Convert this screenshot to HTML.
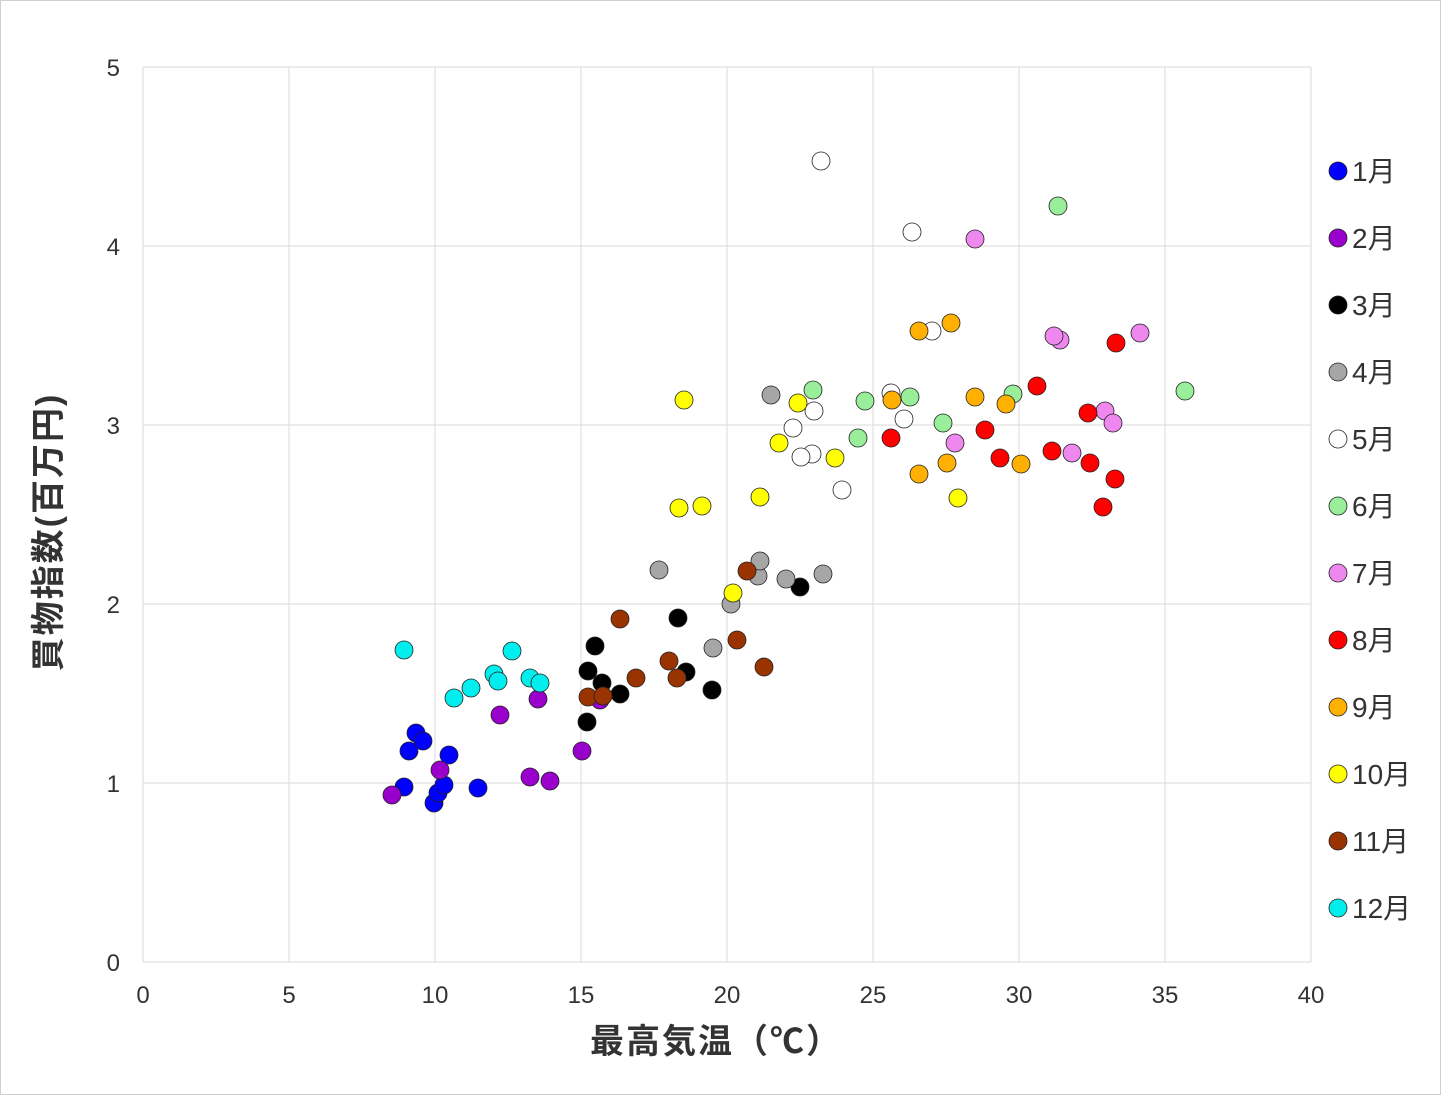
<!DOCTYPE html>
<html><head><meta charset="utf-8"><style>
body{margin:0;background:#fff}
svg{display:block}
text{font-family:"Liberation Sans","Noto Sans CJK JP",sans-serif}
</style></head><body>
<svg width="1441" height="1095" viewBox="0 0 1441 1095">
<rect x="0.5" y="0.5" width="1440" height="1094" fill="#fff" stroke="#d0d0d0"/>
<g stroke="#d9d9d9" stroke-width="1">
<line x1="143" y1="67" x2="1311" y2="67"/><line x1="143" y1="246" x2="1311" y2="246"/><line x1="143" y1="425" x2="1311" y2="425"/><line x1="143" y1="604" x2="1311" y2="604"/><line x1="143" y1="783" x2="1311" y2="783"/><line x1="143" y1="962" x2="1311" y2="962"/>
<line x1="143" y1="67" x2="143" y2="962"/><line x1="289" y1="67" x2="289" y2="962"/><line x1="435" y1="67" x2="435" y2="962"/><line x1="581" y1="67" x2="581" y2="962"/><line x1="727" y1="67" x2="727" y2="962"/><line x1="873" y1="67" x2="873" y2="962"/><line x1="1019" y1="67" x2="1019" y2="962"/><line x1="1165" y1="67" x2="1165" y2="962"/><line x1="1311" y1="67" x2="1311" y2="962"/>
</g>
<g font-size="24" fill="#333" text-anchor="end">
<text x="120" y="76">5</text><text x="120" y="255">4</text><text x="120" y="434">3</text><text x="120" y="613">2</text><text x="120" y="792">1</text><text x="120" y="971">0</text>
</g>
<g font-size="24" fill="#333" text-anchor="middle">
<text x="143" y="1003">0</text><text x="289" y="1003">5</text><text x="435" y="1003">10</text><text x="581" y="1003">15</text><text x="727" y="1003">20</text><text x="873" y="1003">25</text><text x="1019" y="1003">30</text><text x="1165" y="1003">35</text><text x="1311" y="1003">40</text>
</g>
<text x="716" y="1053" font-size="34" font-weight="bold" fill="#333" text-anchor="middle" letter-spacing="2">最高気温（℃）</text>
<text transform="translate(60,532) rotate(-90)" font-size="34" font-weight="bold" fill="#333" text-anchor="middle" letter-spacing="2">買物指数(百万円)</text>
<g stroke="#222" stroke-width="0.8">
<g fill="#0000ff"><circle cx="404" cy="787" r="9"/><circle cx="416" cy="733" r="9"/><circle cx="409" cy="751" r="9"/><circle cx="423" cy="741" r="9"/><circle cx="434" cy="803" r="9"/><circle cx="438" cy="793" r="9"/><circle cx="444" cy="785" r="9"/><circle cx="449" cy="755" r="9"/><circle cx="478" cy="788" r="9"/></g>
<g fill="#9900cc"><circle cx="392" cy="795" r="9"/><circle cx="440" cy="770" r="9"/><circle cx="500" cy="715" r="9"/><circle cx="530" cy="777" r="9"/><circle cx="550" cy="781" r="9"/><circle cx="538" cy="699" r="9"/><circle cx="582" cy="751" r="9"/><circle cx="600" cy="700" r="9"/></g>
<g fill="#000"><circle cx="587" cy="722" r="9"/><circle cx="588" cy="671" r="9"/><circle cx="595" cy="646" r="9"/><circle cx="602" cy="683" r="9"/><circle cx="620" cy="694" r="9"/><circle cx="678" cy="618" r="9"/><circle cx="686" cy="672" r="9"/><circle cx="712" cy="690" r="9"/><circle cx="800" cy="587" r="9"/></g>
<g fill="#a6a6a6"><circle cx="659" cy="570" r="9"/><circle cx="713" cy="648" r="9"/><circle cx="731" cy="604" r="9"/><circle cx="758" cy="576" r="9"/><circle cx="760" cy="561" r="9"/><circle cx="771" cy="395" r="9"/><circle cx="786" cy="579" r="9"/><circle cx="823" cy="574" r="9"/></g>
<g fill="#fff"><circle cx="821" cy="161" r="9"/><circle cx="912" cy="232" r="9"/><circle cx="932" cy="331" r="9"/><circle cx="891" cy="393" r="9"/><circle cx="904" cy="419" r="9"/><circle cx="793" cy="428" r="9"/><circle cx="814" cy="411" r="9"/><circle cx="812" cy="454" r="9"/><circle cx="801" cy="457" r="9"/><circle cx="842" cy="490" r="9"/></g>
<g fill="#99ee99"><circle cx="1058" cy="206" r="9"/><circle cx="1185" cy="391" r="9"/><circle cx="813" cy="390" r="9"/><circle cx="865" cy="401" r="9"/><circle cx="910" cy="397" r="9"/><circle cx="858" cy="438" r="9"/><circle cx="943" cy="423" r="9"/><circle cx="1013" cy="394" r="9"/></g>
<g fill="#ee88ee"><circle cx="975" cy="239" r="9"/><circle cx="1060" cy="340" r="9"/><circle cx="1054" cy="336" r="9"/><circle cx="1140" cy="333" r="9"/><circle cx="1105" cy="411" r="9"/><circle cx="1113" cy="423" r="9"/><circle cx="955" cy="443" r="9"/><circle cx="1072" cy="453" r="9"/></g>
<g fill="#ff0000"><circle cx="1116" cy="343" r="9"/><circle cx="1037" cy="386" r="9"/><circle cx="1088" cy="413" r="9"/><circle cx="985" cy="430" r="9"/><circle cx="891" cy="438" r="9"/><circle cx="1000" cy="458" r="9"/><circle cx="1052" cy="451" r="9"/><circle cx="1090" cy="463" r="9"/><circle cx="1115" cy="479" r="9"/><circle cx="1103" cy="507" r="9"/></g>
<g fill="#ffb000"><circle cx="919" cy="331" r="9"/><circle cx="951" cy="323" r="9"/><circle cx="892" cy="400" r="9"/><circle cx="975" cy="397" r="9"/><circle cx="1006" cy="404" r="9"/><circle cx="947" cy="463" r="9"/><circle cx="919" cy="474" r="9"/><circle cx="1021" cy="464" r="9"/></g>
<g fill="#ffff00"><circle cx="684" cy="400" r="9"/><circle cx="798" cy="403" r="9"/><circle cx="779" cy="443" r="9"/><circle cx="835" cy="458" r="9"/><circle cx="760" cy="497" r="9"/><circle cx="679" cy="508" r="9"/><circle cx="702" cy="506" r="9"/><circle cx="958" cy="498" r="9"/><circle cx="733" cy="593" r="9"/></g>
<g fill="#993300"><circle cx="620" cy="619" r="9"/><circle cx="747" cy="571" r="9"/><circle cx="737" cy="640" r="9"/><circle cx="669" cy="661" r="9"/><circle cx="677" cy="678" r="9"/><circle cx="636" cy="678" r="9"/><circle cx="588" cy="697" r="9"/><circle cx="603" cy="696" r="9"/><circle cx="764" cy="667" r="9"/></g>
<g fill="#00eeee"><circle cx="404" cy="650" r="9"/><circle cx="454" cy="698" r="9"/><circle cx="471" cy="688" r="9"/><circle cx="494" cy="674" r="9"/><circle cx="498" cy="681" r="9"/><circle cx="512" cy="651" r="9"/><circle cx="530" cy="678" r="9"/><circle cx="540" cy="683" r="9"/></g>
<g>
<circle cx="1338" cy="171" r="9" fill="#0000ff"/><circle cx="1338" cy="238" r="9" fill="#9900cc"/><circle cx="1338" cy="305" r="9" fill="#000"/><circle cx="1338" cy="372" r="9" fill="#a6a6a6"/><circle cx="1338" cy="439" r="9" fill="#fff"/><circle cx="1338" cy="506" r="9" fill="#99ee99"/><circle cx="1338" cy="573" r="9" fill="#ee88ee"/><circle cx="1338" cy="640" r="9" fill="#ff0000"/><circle cx="1338" cy="707" r="9" fill="#ffb000"/><circle cx="1338" cy="774" r="9" fill="#ffff00"/><circle cx="1338" cy="841" r="9" fill="#993300"/><circle cx="1338" cy="908" r="9" fill="#00eeee"/>
</g>
</g>
<g font-size="28" fill="#333">
<text x="1352" y="181">1月</text><text x="1352" y="248">2月</text><text x="1352" y="315">3月</text><text x="1352" y="382">4月</text><text x="1352" y="449">5月</text><text x="1352" y="516">6月</text><text x="1352" y="583">7月</text><text x="1352" y="650">8月</text><text x="1352" y="717">9月</text><text x="1352" y="784">10月</text><text x="1352" y="851">11月</text><text x="1352" y="918">12月</text>
</g>
</svg>
</body></html>
